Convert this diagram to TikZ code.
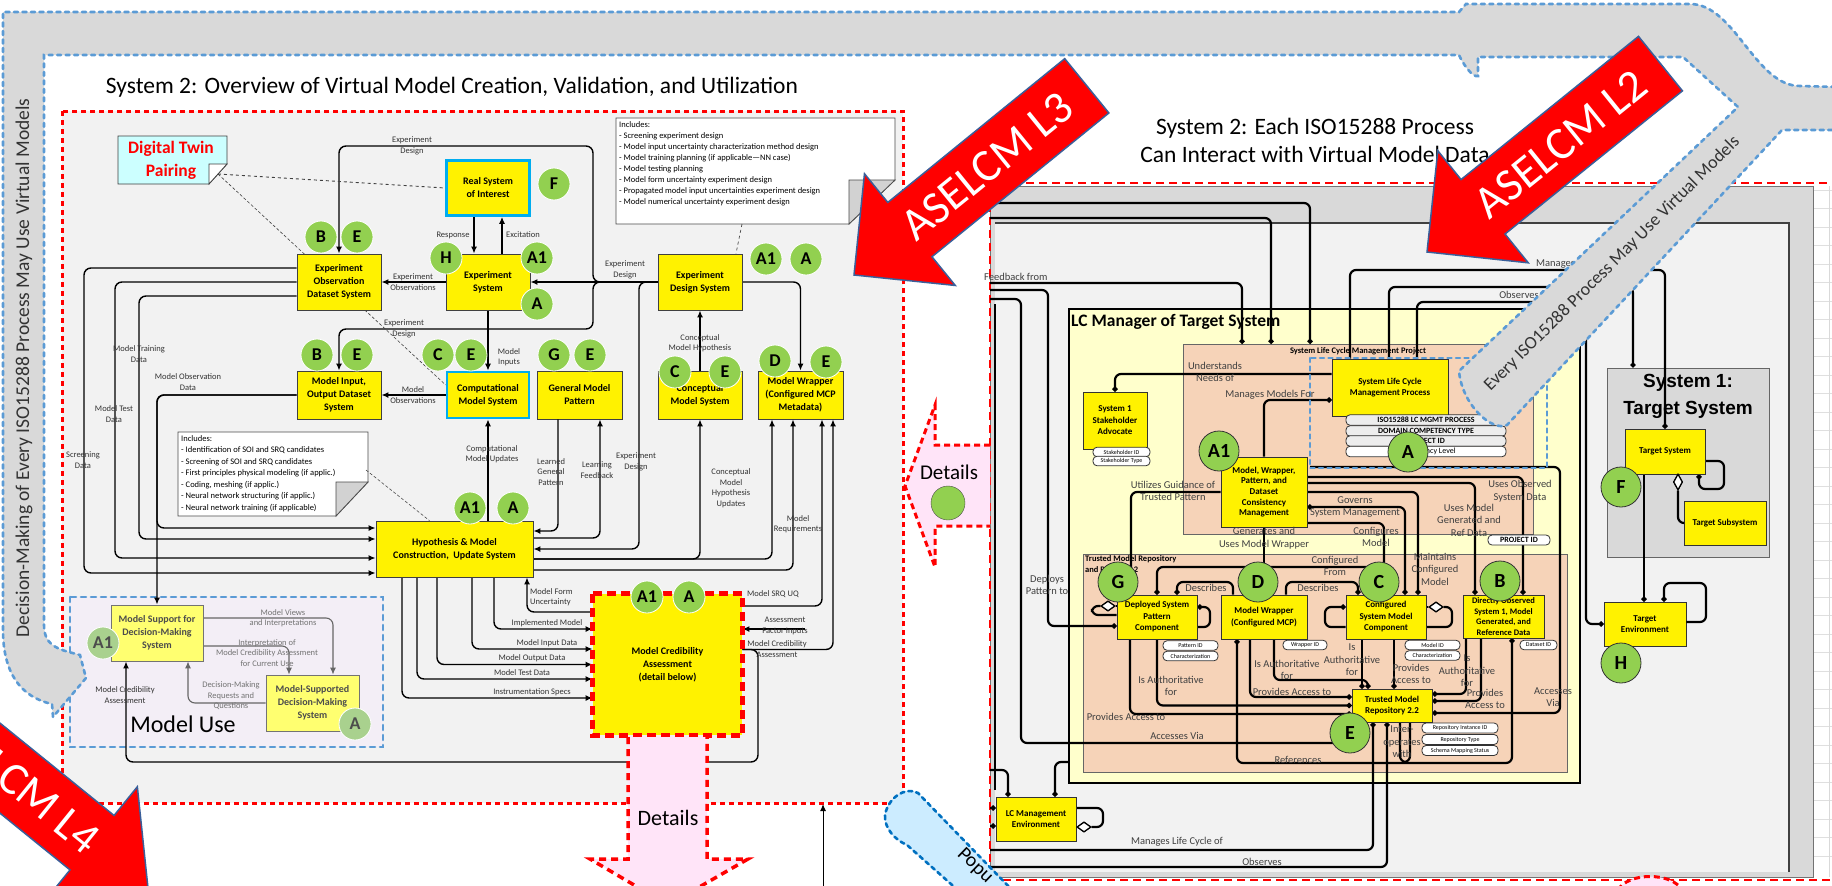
\documentclass[tikz,border=0pt]{standalone}
\usepackage{fontspec}
\setmainfont{Carlito}
\newfontfamily\arialfont{Liberation Sans}
\usetikzlibrary{positioning,arrows.meta,shapes.geometric}
\definecolor{tgreen}{HTML}{92D050}
\definecolor{paleyel}{HTML}{FFFF70}
\definecolor{palegreen}{HTML}{A9D18E}
\definecolor{panelgray}{HTML}{F2F2F2}
\definecolor{bandgray}{HTML}{D9D9D9}
\definecolor{dotblue}{HTML}{5B9BD5}
\definecolor{popdot}{HTML}{0070C0}
\definecolor{popblue}{HTML}{CCECFF}
\definecolor{lcyel}{HTML}{FFFFCC}
\definecolor{peach}{HTML}{F6D3B8}
\definecolor{twincyan}{HTML}{CCFFFF}
\definecolor{detpink}{HTML}{FFE4F8}
\definecolor{usebg}{HTML}{F3EEF6}
\definecolor{edgeblue}{HTML}{3A5F9A}
\definecolor{pillgray}{HTML}{EDEDED}
\tikzset{
  sysbox/.style={draw=black!75, fill=yellow, line width=0.8pt, align=center, inner sep=1pt,
    font=\bfseries\fontsize{10}{13}\selectfont},
  cyanbox/.style={sysbox, draw=cyan, line width=2.6pt},
  usebox/.style={sysbox, fill=paleyel, draw=black!55, text=black!70},
  rbox/.style={draw=black!80, fill=yellow, line width=0.8pt, align=center, inner sep=1pt,
    font=\bfseries\fontsize{9}{11.5}\selectfont},
  lettag/.style={circle, fill=tgreen, draw=white, line width=0.8pt, minimum size=32pt, inner sep=0pt,
    font=\bfseries\fontsize{18}{18}\selectfont},
  paletag/.style={lettag, fill=palegreen, text=black!70},
  rtag/.style={lettag, draw=black!80, minimum size=40pt, font=\bfseries\fontsize{20}{20}\selectfont},
  flowarr/.style={line width=1.4pt, rounded corners=7pt, -{Latex[length=7pt,width=6pt]}},
  usearr/.style={flowarr, draw=black!60, line width=1.1pt},
  lbl/.style={font=\fontsize{8.5}{10.5}\selectfont, text=black!80, align=center, inner sep=0pt},
  uselbl/.style={lbl, text=black!55},
  notetext/.style={anchor=north west, align=left, inner sep=0pt, font=\fontsize{8.5}{11}\selectfont},
  relline/.style={line width=2.2pt, rounded corners=6pt},
  dotend/.style={relline, -{Circle[length=5pt]}},
  rlbl/.style={font=\fontsize{10.5}{12.5}\selectfont, text=black!75, align=center, inner sep=0pt},
  pill/.style={draw=black!80, fill=white, rounded corners=4pt, line width=0.8pt, inner sep=0pt,
    font=\fontsize{6}{6}\selectfont, minimum height=9.5pt},
  hollow/.style={diamond, draw=black, fill=white, line width=1.2pt, minimum width=14pt, minimum height=10pt, inner sep=0pt},
  reddash/.style={draw=red, line width=3pt, dash pattern=on 5pt off 4pt},
  reddashb/.style={draw=red, line width=2.5pt, dash pattern=on 8pt off 5pt},
  bluedot/.style={draw=dotblue, line width=2.6pt, dash pattern=on 4pt off 4.5pt, line cap=round},
  bigarrow/.style={fill=red, draw=edgeblue, line width=1.5pt},
}
\begin{document}
\begin{tikzpicture}[x=1pt,y=-1pt]
\useasboundingbox (0,0) rectangle (1832,886);
\fill[white] (0,0) rectangle (1832,886);

\fill[panelgray] (62,111) rectangle (903,803);
\draw[reddash] (62,111) rectangle (903,803);
\node[font=\fontsize{23.5}{28}\selectfont] (ttlleft) at (452,87) {System 2: Overview of Virtual Model Creation, Validation, and Utilization};

\filldraw[fill=twincyan, draw=black!75, line width=0.8pt] (118,136) -- (227,136) -- (227,164) -- (209,184) -- (118,184) -- cycle;
\filldraw[fill=white, draw=black!75, line width=0.8pt] (209,164) -- (227,164) -- (209,184) -- cycle;
\node[font=\bfseries\fontsize{17.5}{23}\selectfont, text=red, align=center] (twin) at (171,160) {Digital Twin\\Pairing};
\coordinate (twinfold) at (218,174);

\filldraw[fill=white, draw=black!70, line width=0.8pt] (616,118) -- (895,118) -- (895,180) -- (849,224) -- (616,224) -- cycle;
\filldraw[fill=gray!35, draw=black!70, line width=0.8pt] (849,180) -- (895,180) -- (849,224) -- cycle;
\node[notetext] (inclA) at (619,121) {Includes:\\- Screening experiment design\\- Model input uncertainty characterization method design\\- Model training planning (if applicable---NN case)\\- Model testing planning\\- Model form uncertainty experiment design\\- Propagated model input uncertainties experiment design\\- Model numerical uncertainty experiment design};
\coordinate (inclAtip) at (742,224);

\filldraw[fill=white, draw=black!70, line width=0.8pt] (178,432) -- (368,432) -- (368,482) -- (336,516) -- (178,516) -- cycle;
\filldraw[fill=gray!35, draw=black!70, line width=0.8pt] (336,482) -- (368,482) -- (336,516) -- cycle;
\node[notetext, font=\fontsize{8.5}{11.5}\selectfont] (inclB) at (181,435) {Includes:\\- Identification of SOI and SRQ candidates\\- Screening of SOI and SRQ candidates\\- First principles physical modeling (if applic.)\\- Coding, meshing (if applic.)\\- Neural network structuring (if applic.)\\- Neural network training (if applicable)};
\coordinate (inclBtip) at (366,470);

\draw[bluedot, fill=usebg, dash pattern=on 5pt off 5pt] (70,597) rectangle (383,747);

\node[cyanbox, minimum width=83pt, minimum height=55pt] (rsoi) at (488,188) {Real System\\of Interest};
\node[sysbox, minimum width=84pt, minimum height=56pt] (xsys) at (488,282) {Experiment\\System};
\node[sysbox, minimum width=84pt, minimum height=56pt] (eods) at (339,282) {Experiment\\Observation\\Dataset System};
\node[sysbox, minimum width=84pt, minimum height=48pt] (mio) at (339,395) {Model Input,\\Output Dataset\\System};
\node[cyanbox, minimum width=82pt, minimum height=46pt] (cms) at (488,395) {Computational\\Model System};
\node[sysbox, minimum width=85pt, minimum height=48pt] (gmp) at (579.5,395) {General Model\\Pattern};
\node[sysbox, minimum width=84pt, minimum height=48pt] (cons) at (700,395) {Conceptual\\Model System};
\node[sysbox, minimum width=85pt, minimum height=48pt] (mwrap) at (800.5,395) {Model Wrapper\\(Configured MCP\\Metadata)};
\node[sysbox, minimum width=84pt, minimum height=56pt] (edsys) at (700,282) {Experiment\\Design System};
\node[sysbox, minimum width=157pt, minimum height=56pt] (hyp) at (454.5,549) {Hypothesis \& Model\\Construction,\ \ Update System};
\node[sysbox, draw=none, minimum width=149pt, minimum height=141pt] (mca) at (667.5,664.5) {Model Credibility\\Assessment\\(detail below)};
\node[usebox, minimum width=92pt, minimum height=56pt] (msup) at (157,633) {Model Support for\\Decision-Making\\System};
\node[usebox, minimum width=93pt, minimum height=56pt] (msdm) at (312.5,703) {Model-Supported\\Decision-Making\\System};

\draw[flowarr] (edsys.west) -- (xsys.east);
\draw[flowarr] (edsys.west) -| (593,146) -| (eods.north);
\draw[flowarr] (edsys.west) -| (593,329) -| (mio.north);
\draw[flowarr] (edsys.west) -| (639,400) |- (hyp.east);
\draw[flowarr] (edsys.east) -| (mwrap.north);
\draw[flowarr] (xsys.west) -- (eods.east);
\draw[flowarr] ([xshift=-14pt]rsoi.south) -- ([xshift=-14pt]xsys.north);
\draw[flowarr] ([xshift=14pt]xsys.north) -- ([xshift=14pt]rsoi.south);
\draw[flowarr] (xsys.south) -- (cms.north);
\draw[flowarr] (cms.west) -- (mio.east);
\draw[flowarr] (cons.north) -- (edsys.south);
\draw[flowarr] ([yshift=14pt]eods.west) -| (84,560) |- ([yshift=-24pt]hyp.west);
\draw[flowarr] (eods.west) -| (115,545) |- ([yshift=-9pt]hyp.west);
\draw[flowarr] ([yshift=-14pt]eods.west) -| (139,525) |- ([yshift=10pt]hyp.west);
\draw[flowarr] (mio.west) -| (157,515) |- ([yshift=21pt]hyp.west);
\draw[flowarr] (mio.west) -| (msup.north);
\draw[flowarr] ([xshift=-21.5pt]gmp.south) |- ([yshift=18pt]hyp.east);
\draw[flowarr] ([yshift=11pt]hyp.east) -| ([xshift=20.5pt]gmp.south);
\draw[flowarr] ([yshift=-10pt]hyp.east) -| (cons.south);
\draw[flowarr] ([yshift=-10pt]hyp.east) -| ([xshift=-28.5pt]mwrap.south);
\draw[flowarr] ([yshift=-21pt]hyp.east) -| ([xshift=-7.5pt]mwrap.south);
\draw[flowarr] ([xshift=33.5pt]hyp.north) -- (cms.south);
\draw[flowarr] ([yshift=58.5pt]mca.east) -| ([xshift=21.5pt]mwrap.south);
\draw[flowarr] ([yshift=15pt]mca.east) -| ([xshift=32.5pt]mwrap.south);
\coordinate (afisrc) at (805,629);
\draw[flowarr] (afisrc) -- ([yshift=35.5pt]mca.east);
\draw[flowarr] ([yshift=15pt]mca.east) -| (758,762) -| ([xshift=-31pt]msup.south);
\draw[flowarr] ([yshift=52.5pt]mca.west) -| ([xshift=72.5pt]hyp.south);
\draw[flowarr] ([xshift=39.5pt]hyp.south) |- ([yshift=35.5pt]mca.west);
\draw[flowarr] ([xshift=17.5pt]hyp.south) |- ([yshift=15.5pt]mca.west);
\draw[flowarr] ([xshift=-17.5pt]hyp.south) |- (mca.west);
\draw[flowarr] ([xshift=-37.5pt]hyp.south) |- ([yshift=-14.5pt]mca.west);
\draw[flowarr] ([xshift=-52.5pt]hyp.south) |- ([yshift=-33.5pt]mca.west);
\draw[usearr] ([yshift=15pt]msup.east) -| ([xshift=20.5pt]msdm.north);
\draw[usearr] ([yshift=-13pt]msup.east) -| ([xshift=-23.5pt]msdm.north);
\draw[usearr] (msdm.west) -| ([xshift=31pt]msup.south);
\draw[dashed, black!75, line width=0.9pt] (twinfold) -- (rsoi.west);
\draw[densely dashed, black!75, line width=0.6pt] (twinfold) -- ([yshift=10pt]cms.west);
\draw[dashed, black!70, line width=0.7pt] (inclAtip) -- ([xshift=36pt]edsys.north);
\draw[densely dashed, black!70, line width=0.6pt] (inclBtip) -- ([xshift=-25pt]hyp.north);
\coordinate (popin) at (823,886);
\coordinate (popend) at (823,804);
\draw[line width=1pt, -{Latex[length=7pt,width=6pt]}] (popin) -- (popend);

\node[cyanbox, minimum width=83pt, minimum height=55pt] at (rsoi) {Real System\\of Interest};
\node[sysbox, minimum width=84pt, minimum height=56pt] at (xsys) {Experiment\\System};
\node[sysbox, minimum width=84pt, minimum height=56pt] at (eods) {Experiment\\Observation\\Dataset System};
\node[sysbox, minimum width=84pt, minimum height=48pt] at (mio) {Model Input,\\Output Dataset\\System};
\node[cyanbox, minimum width=82pt, minimum height=46pt] at (cms) {Computational\\Model System};
\node[sysbox, minimum width=84pt, minimum height=56pt] at (edsys) {Experiment\\Design System};
\node[sysbox, minimum width=157pt, minimum height=56pt] at (hyp) {Hypothesis \& Model\\Construction,\ \ Update System};
\node[usebox, minimum width=92pt, minimum height=56pt] at (msup) {Model Support for\\Decision-Making\\System};
\node[usebox, minimum width=93pt, minimum height=56pt] at (msdm) {Model-Supported\\Decision-Making\\System};
\draw[red, line width=4.5pt, dash pattern=on 9pt off 5pt] (mca.north west) rectangle (mca.south east);

\node[lettag] (tF) at (554,184) {F};
\node[lettag] (tH) at (446,258) {H};
\node[lettag] (tA1x) at (537,258) {A1};
\node[lettag] (tAx) at (537,304) {A};
\node[lettag] (tBe) at (321,237) {B};
\node[lettag] (tEe) at (357,237) {E};
\node[lettag] (tBm) at (317,355) {B};
\node[lettag] (tEm) at (357,355) {E};
\node[lettag] (tCc) at (438,355) {C};
\node[lettag] (tEc) at (471,355) {E};
\node[lettag] (tGg) at (554,355) {G};
\node[lettag] (tEg) at (590,355) {E};
\node[lettag] (tCk) at (675,372) {C};
\node[lettag] (tEk) at (725,372) {E};
\node[lettag] (tDw) at (775,361) {D};
\node[lettag] (tEw) at (826,362) {E};
\node[lettag] (tA1d) at (766,259) {A1};
\node[lettag] (tAd) at (806,259) {A};
\node[lettag] (tA1h) at (470,508) {A1};
\node[lettag] (tAh) at (513,508) {A};
\node[lettag] (tA1m) at (647,597) {A1};
\node[lettag] (tAm) at (689,597) {A};
\node[paletag] (tA1s) at (103,643) {A1};
\node[paletag] (tAs) at (355,724) {A};

\node[lbl] (lxd1) at (412,146) {Experiment\\Design};
\node[lbl] (lxd2) at (404,329) {Experiment\\Design};
\node[lbl] (lxd3) at (625,270) {Experiment\\Design};
\node[lbl] (lxo) at (413,282) {Experiment\\Observations};
\node[lbl] (lresp) at (453,235) {Response};
\node[lbl] (lexc) at (523,235) {Excitation};
\node[lbl] (lmi) at (509,357) {Model\\Inputs};
\node[lbl] (lmo) at (413,395) {Model\\Observations};
\node[lbl] (lscr) at (83,460) {Screening\\Data};
\node[lbl] (ltest) at (114,414) {Model Test\\Data};
\node[lbl] (ltrain) at (139,354) {Model Training\\Data};
\node[lbl] (lobs) at (188,382) {Model Observation\\Data};
\node[lbl] (llgp) at (551,472) {Learned\\General\\Pattern};
\node[lbl] (llf) at (597,470) {Learning\\Feedback};
\node[lbl] (lxd4) at (636,462) {Experiment\\Design};
\node[lbl] (lcmhu) at (731,488) {Conceptual\\Model\\Hypothesis\\Updates};
\node[lbl] (lmr) at (798,524) {Model\\Requirements};
\node[lbl] (lsrq) at (773,594) {Model SRQ UQ};
\node[lbl] (lafi) at (785,626) {Assessment\\Factor Inputs};
\node[lbl] (lmcar) at (777,649) {Model Credibility\\Assessment};
\node[lbl, anchor=west, align=left] (lmfu) at (530,597) {Model Form\\Uncertainty};
\node[lbl] (lim) at (547,623) {Implemented Model};
\node[lbl] (lmid) at (547,643) {Model Input Data};
\node[lbl] (lmod) at (532,658) {Model Output Data};
\node[lbl] (lmtd) at (522,673) {Model Test Data};
\node[lbl] (lis) at (532,692) {Instrumentation Specs};
\node[lbl] (lcmu) at (492,454) {Computational\\Model Updates};
\node[lbl] (lcmh) at (700,343) {Conceptual\\Model Hypothesis};
\node[uselbl] (lmvi) at (283,618) {Model Views\\and Interpretations};
\node[uselbl] (limc) at (267,653) {Interpretation of\\Model Credibility Assessment\\for Current Use};
\node[uselbl] (ldmr) at (231,696) {Decision-Making\\Requests and\\Questions};
\node[lbl] (lmcal) at (125,695) {Model Credibility\\Assessment};
\node[font=\fontsize{24}{24}\selectfont] (muse) at (183,724) {Model Use};

\fill[bandgray] (990,186) rectangle (1813,877);
\draw[black!55, line width=1pt] (990,186) rectangle (1813,877);
\fill[panelgray] (995,223) rectangle (1789,872);
\draw[black!75, line width=1.2pt] (995,223) -- (1789,223) -- (1789,872);
\fill[white] (1814,186) rectangle (1832,877);
\foreach \gy in {190,208.5,...,870} \draw[gray!25, line width=0.6pt] (1814,\gy) -- (1832,\gy);
\draw[gray!30, line width=0.6pt] (1829,186) -- (1829,877);
\draw[reddashb] (1840,183) -- (990,183) -- (990,880) -- (1840,880);
\node[font=\fontsize{23.5}{28}\selectfont, align=center] (ttlright) at (1315,140) {System 2: Each ISO15288 Process\\Can Interact with Virtual Model Data};

\node[draw=black, fill=lcyel, line width=1.3pt, minimum width=511pt, minimum height=474pt] (lcm) at (1324.5,546) {};
\node[anchor=west, font=\bfseries\fontsize{17.5}{17.5}\selectfont, inner sep=0pt] (lcmttl) at (1071,322) {LC Manager of Target System};
\node[draw=black!60, fill=peach, minimum width=350pt, minimum height=190pt] (slcproj) at (1358,439) {};
\node[font=\bfseries\fontsize{8.5}{8.5}\selectfont, inner sep=0pt] (slcprojttl) at (1358,351) {System Life Cycle Management Project};
\node[draw=black!60, fill=peach, minimum width=484pt, minimum height=218pt] (tmrproj) at (1325,663) {};
\node[anchor=north west, align=left, font=\bfseries\fontsize{8.5}{11}\selectfont, inner sep=0pt] (tmrprojttl) at (1085,555) {Trusted Model Repository\\and Project 2.2};
\node[draw=black!60, fill=bandgray, line width=1pt, minimum width=162pt, minimum height=189pt] (sys1) at (1688,462.5) {};
\node[font={\arialfont\bfseries\fontsize{19}{27}\selectfont}, align=center, inner sep=0pt] (sys1ttl) at (1688,396) {System 1:\\Target System};

\node[rbox, minimum width=116pt, minimum height=57pt] (slcmpr) at (1390,387.5) {System Life Cycle\\Management Process};
\node[rbox, minimum width=64pt, minimum height=57pt] (ssa) at (1115,420.5) {System 1\\Stakeholder\\Advocate};
\node[rbox, minimum width=86pt, minimum height=70pt, font=\bfseries\fontsize{9}{10.7}\selectfont] (mwp) at (1264,492) {Model, Wrapper,\\Pattern, and\\Dataset\\Consistency\\Management};
\node[rbox, minimum width=80pt, minimum height=44pt] (dspc) at (1157,617) {Deployed System\\Pattern\\Component};
\node[rbox, minimum width=86pt, minimum height=44pt] (mwc) at (1264,617) {Model Wrapper\\(Configured MCP)};
\node[rbox, minimum width=80pt, minimum height=44pt] (csmc) at (1386,617) {Configured\\System Model\\Component};
\node[rbox, minimum width=81pt, minimum height=43pt, font=\bfseries\fontsize{8.5}{10.5}\selectfont] (dos) at (1503.5,616.5) {Directly Observed\\System 1, Model\\Generated, and\\Reference Data};
\node[rbox, minimum width=80pt, minimum height=33pt] (tmr) at (1392,705.5) {Trusted Model\\Repository 2.2};
\node[rbox, minimum width=80pt, minimum height=44pt] (lcme) at (1036,819) {LC Management\\Environment};
\node[rbox, minimum width=80pt, minimum height=45pt] (tsys) at (1665,451.5) {Target System};
\node[rbox, minimum width=82pt, minimum height=44pt] (tsub) at (1725,523) {Target Subsystem};
\node[rbox, minimum width=82pt, minimum height=44pt] (tenv) at (1645,624) {Target\\Environment};
\node[hollow] (dsd) at (1108,606) {};
\node[hollow] (csd) at (1436,607) {};
\node[hollow] (lcd) at (1084,827) {};
\node[hollow, minimum width=9pt, minimum height=16pt] (tsd) at (1678,482) {};

\coordinate (fbin) at (990,283);
\coordinate (depin) at (990,290);
\coordinate (avin) at (990,299);
\coordinate (vlin) at (995,304);
\coordinate (vlout) at (995,790);
\coordinate (sysin1) at (990,203);
\coordinate (sysin2) at (990,218);
\coordinate (lcmin) at (990,770);
\coordinate (lcl1) at (990,808);
\coordinate (lcl2) at (990,826);
\coordinate (mlcout) at (990,850);
\coordinate (obsout) at (990,867);
\coordinate (slcbot) at (1310,467);

\draw[dotend] (fbin) -| ([xshift=-116pt]slcproj.north);
\draw[dotend] (depin) -| (1048,560) |- ([yshift=-9pt]dspc.west);
\draw[dotend] (avin) -| (1021,700) |- ([yshift=-37.5pt]tmr.west);
\draw[relline] (vlin) -- (vlout);
\draw[dotend] (sysin2) -| ([xshift=-87pt]slcproj.north);
\draw[dotend] (sysin1) -| ([xshift=-48pt]slcproj.north);
\draw[dotend] ([yshift=13.5pt]slcmpr.west) -| (ssa.north);
\draw[relline, {Circle[length=5pt]}-] ([yshift=-12.5pt]slcmpr.west) -| (mwp.north);
\draw[dotend] ([xshift=-40pt]slcmpr.north) |- (1600,270) -| (tsys.north);
\draw[dotend] ([xshift=-1pt]slcmpr.north) |- (1600,287) -| ([xshift=-55pt]sys1.north);
\draw[dotend] ([xshift=27pt]slcmpr.north) |- (1560,302) -| (1586,600) |- (tenv.west);
\draw[dotend] (slcbot) -| (1560,700) |- ([yshift=-7.5pt]tmr.east);
\draw[dotend] ([yshift=15pt]mwp.east) -| ([xshift=19.5pt]dos.north);
\draw[dotend] ([yshift=9pt]mwp.east) -| ([xshift=-28.5pt]dos.north);
\draw[dotend] (mwp.east) -| ([xshift=32pt]csmc.north);
\draw[relline, {Circle[length=5pt]}-{Circle[length=5pt]}] ([yshift=-15pt]mwp.east) -| ([xshift=19pt]csmc.north);
\draw[dotend] ([yshift=-31pt]mwp.east) -| ([xshift=-2pt]csmc.north);
\draw[dotend] (mwp.west) -| ([xshift=-26pt]dspc.north);
\draw[relline] (mwp.south) -- (mwc.north);
\draw[dotend] ([xshift=-2pt]csmc.north) |- (1300,567) -| (dspc.north);
\draw[relline, {Circle[length=5pt]}-] ([xshift=20pt]dspc.north) |- (1233,582) -- ([xshift=-31pt]mwc.north);
\draw[dotend] ([xshift=22pt]mwc.north) |- (1358,582) -- ([xshift=-28pt]csmc.north);
\draw[relline] (dsd.east) -- ([yshift=11pt]dspc.west);
\draw[relline] (dsd.west) -- (1092,606) -- (1092,615) -- ([yshift=2pt]dspc.west);
\draw[relline, {Circle[length=5pt]}-] ([yshift=10pt]dspc.east) -| (1210,627) -- ([yshift=-10pt]dspc.east);
\draw[relline, {Circle[length=5pt]}-] ([yshift=10pt]csmc.west) -| (1325,627) -- ([yshift=-10pt]csmc.west);
\draw[relline] (csd.west) -- ([yshift=10pt]csmc.east);
\draw[relline] (csd.east) -| (1452,627) -- ([yshift=-10pt]csmc.east);
\draw[dotend] ([xshift=-27pt]dspc.south) |- ([yshift=-8.5pt]tmr.west);
\draw[dotend] (dspc.south) |- (tmr.west);
\draw[relline, {Circle[length=5pt]}-{Circle[length=5pt]}] ([xshift=-27pt]mwc.south) |- (1512,763) -- ([xshift=8.5pt]dos.south);
\draw[dotend] ([xshift=-14pt]mwc.south) |- ([yshift=8.5pt]tmr.west);
\draw[dotend] ([xshift=10pt]mwc.south) |- (1368,680) -- ([xshift=-24pt]tmr.north);
\draw[dotend] ([xshift=-24pt]csmc.south) -- ([xshift=-30pt]tmr.north);
\draw[dotend] ([xshift=8pt]csmc.south) -- ([xshift=2pt]tmr.north);
\draw[dotend] ([xshift=-37.5pt]dos.south) |- ([yshift=11.5pt]tmr.east);
\draw[dotend] ([xshift=-22.5pt]dos.south) |- ([yshift=4.5pt]tmr.east);
\draw[relline, {Circle[length=5pt]}-] ([xshift=-19pt]tmr.south) |- (mlcout);
\draw[relline, {Circle[length=5pt]}-] ([xshift=-5pt]tmr.south) |- (obsout);
\draw[relline] ([xshift=8pt]tmr.south) |- (1410,762) -- ([xshift=18pt]tmr.south);
\draw[dotend] (lcmin) -| ([xshift=-28pt]lcme.north);
\draw[relline, {Circle[length=5pt]}-] ([xshift=19pt]lcme.north) |- (lcm.west |- 0,762);
\draw[relline] ([yshift=11pt]lcme.east) -| (1103,827) -- (lcd.east);
\draw[dotend] (lcl1) -- ([yshift=11pt]lcme.west);
\draw[dotend] (lcl2) -- ([yshift=-7pt]lcme.west);
\draw[dotend] ([yshift=-9.5pt]tsys.east) -| (1724,489) -| ([xshift=34pt]tsys.south);
\draw[relline] (tsd.south) |- (tsub.west);
\draw[dotend] ([xshift=-21pt]tsys.south) -- ([xshift=-1pt]tenv.north);
\draw[relline, {Circle[length=5pt]}-] ([xshift=19pt]tenv.north) |- (1706,583) |- ([yshift=2pt]tenv.east);

\node[rbox, minimum width=116pt, minimum height=57pt] at (slcmpr) {System Life Cycle\\Management Process};
\node[rbox, minimum width=64pt, minimum height=57pt] at (ssa) {System 1\\Stakeholder\\Advocate};
\node[rbox, minimum width=86pt, minimum height=70pt, font=\bfseries\fontsize{9}{10.7}\selectfont] at (mwp) {Model, Wrapper,\\Pattern, and\\Dataset\\Consistency\\Management};
\node[rbox, minimum width=80pt, minimum height=44pt] at (dspc) {Deployed System\\Pattern\\Component};
\node[rbox, minimum width=86pt, minimum height=44pt] at (mwc) {Model Wrapper\\(Configured MCP)};
\node[rbox, minimum width=80pt, minimum height=44pt] at (csmc) {Configured\\System Model\\Component};
\node[rbox, minimum width=81pt, minimum height=43pt, font=\bfseries\fontsize{8.5}{10.5}\selectfont] at (dos) {Directly Observed\\System 1, Model\\Generated, and\\Reference Data};
\node[rbox, minimum width=80pt, minimum height=33pt] at (tmr) {Trusted Model\\Repository 2.2};
\node[rbox, minimum width=80pt, minimum height=44pt] at (lcme) {LC Management\\Environment};
\node[rbox, minimum width=80pt, minimum height=45pt] at (tsys) {Target System};
\node[hollow] at (dsd) {};
\node[hollow] at (csd) {};
\node[hollow] at (lcd) {};
\node[hollow, minimum width=9pt, minimum height=16pt] at (tsd) {};

\node[pill, minimum width=57pt] (pstk1) at (1121.5,452) {Stakeholder ID};
\node[pill, minimum width=57pt] (pstk2) at (1121.5,461) {Stakeholder Type};
\node[pill, fill=pillgray, minimum width=160pt, minimum height=10.5pt, font=\bfseries\fontsize{8}{8}\selectfont] (pslc1) at (1426,420) {ISO15288 LC MGMT PROCESS};
\node[pill, fill=pillgray, minimum width=160pt, minimum height=10.5pt, font=\bfseries\fontsize{8}{8}\selectfont] (pslc2) at (1426,431) {DOMAIN COMPETENCY TYPE};
\node[pill, fill=pillgray, minimum width=160pt, minimum height=10.5pt, font=\bfseries\fontsize{8}{8}\selectfont] (pslc3) at (1426,441) {PROJECT ID};
\node[pill, minimum width=160pt, minimum height=10.5pt, font=\fontsize{8}{8}\selectfont] (pslc4) at (1426,451.5) {Competency Level};
\node[pill, minimum width=55pt] (ppat) at (1190.5,645.5) {Pattern ID};
\node[pill, minimum width=55pt] (pchar1) at (1190.5,656) {Characterization};
\node[pill, minimum width=44pt] (pwrap) at (1305,645) {Wrapper ID};
\node[pill, minimum width=55pt] (pmod) at (1432.5,645) {Model ID};
\node[pill, minimum width=55pt] (pchar2) at (1432.5,655.5) {Characterization};
\node[pill, minimum width=37pt] (pdat) at (1538.5,645) {Dataset ID};
\node[pill, minimum width=76pt, minimum height=10pt] (prep1) at (1460,728) {Repository Instance ID};
\node[pill, minimum width=76pt, minimum height=10pt] (prep2) at (1460,739.5) {Repository Type};
\node[pill, minimum width=76pt, minimum height=10pt] (prep3) at (1460,750.5) {Schema Mapping Status};
\node[pill, minimum width=62pt, minimum height=10pt, font=\bfseries\fontsize{8}{8}\selectfont] (pproj) at (1519,540) {PROJECT ID};
\draw[bluedot] (1310,358) rectangle (1547,468);

\node[rtag] (rA1) at (1219,451) {A1};
\node[rtag] (rA) at (1408,452) {A};
\node[rtag] (rG) at (1118,582) {G};
\node[rtag] (rD) at (1258,582) {D};
\node[rtag] (rC) at (1379,582) {C};
\node[rtag] (rB) at (1500,581) {B};
\node[rtag] (rE) at (1350,733) {E};
\node[rtag] (rF) at (1621,487) {F};
\node[rtag] (rH) at (1621,663) {H};

\node[rlbl, anchor=west] (rfb) at (984,277) {Feedback from};
\node[rlbl] (rdep) at (1047,585) {Deploys\\Pattern to};
\node[rlbl] (rund) at (1215,372) {Understands\\Needs of};
\node[rlbl] (rmmf) at (1270,395) {Manages Models For};
\node[rlbl] (rutil) at (1173,491) {Utilizes Guidance of\\Trusted Pattern};
\node[rlbl] (rgov) at (1355,507) {Governs\\System Management};
\node[rlbl] (rgen) at (1264,538) {Generates and\\Uses Model Wrapper};
\node[rlbl] (rconf) at (1376,537) {Configures\\Model};
\node[rlbl] (rcfrom) at (1335,566) {Configured\\From};
\node[rlbl] (rdes1) at (1206,588) {Describes};
\node[rlbl] (rdes2) at (1318,588) {Describes};
\node[rlbl] (rmaint) at (1435,569) {Maintains\\Configured\\Model};
\node[rlbl] (rumg) at (1469,520) {Uses Model\\Generated and\\Ref Data};
\node[rlbl] (ruos) at (1520,491) {Uses Observed\\System Data};
\node[rlbl, anchor=west] (rmlc) at (1536,264) {Manages Life Cycle of};
\node[rlbl] (robs) at (1519,295) {Observes};
\node[rlbl] (riaf1) at (1171,686) {Is Authoritative\\for};
\node[rlbl] (riaf2) at (1287,670) {Is Authoritative\\for};
\node[rlbl] (riaf3) at (1352,660) {Is\\Authoritative\\for};
\node[rlbl] (rpat1) at (1292,692) {Provides Access to};
\node[rlbl] (rpat2) at (1126,717) {Provides Access to};
\node[rlbl] (rpat3) at (1411,674) {Provides\\Access to};
\node[rlbl] (riaf4) at (1467,671) {Is\\Authoritative\\for};
\node[rlbl] (rpat4) at (1485,699) {Provides\\Access to};
\node[rlbl] (rav1) at (1177,736) {Accesses Via};
\node[rlbl] (rav2) at (1553,697) {Accesses\\Via};
\node[rlbl] (rref) at (1298,760) {References};
\node[rlbl] (riow) at (1402,742) {Inter-\\operates\\with};
\node[rlbl] (rmlc2) at (1177,842) {Manages Life Cycle of};
\node[rlbl] (robs2) at (1262,862) {Observes};

\fill[detpink] (990,445) -- (935,445) -- (935,405) -- (905,486) -- (935,567) -- (935,526) -- (990,526) -- cycle;
\draw[red, line width=3pt, dash pattern=on 6pt off 4pt] (990,445) -- (935,445) -- (935,405) -- (905,486) -- (935,567) -- (935,526) -- (990,526);
\node[font=\fontsize{21}{21}\selectfont] (detR) at (949,472) {Details};
\node[circle, fill=tgreen, draw=black!70, minimum size=34pt, inner sep=0pt] (dcirc) at (948,503) {};

\fill[detpink] (628,737) -- (628,859) -- (590,859) -- (668,905) -- (748,859) -- (707,859) -- (707,737) -- cycle;
\draw[red, line width=3.5pt, dash pattern=on 7pt off 5pt] (628,737) -- (628,859) -- (590,859) -- (668,905) -- (748,859) -- (707,859) -- (707,737);
\node[font=\fontsize{22}{22}\selectfont] (detL) at (668,818) {Details};

\filldraw[fill=popblue, draw=popdot, line width=2.6pt, dash pattern=on 4pt off 4pt, line cap=round] (1014,892) -- (918,793) .. controls (905,786) and (888,798) .. (885,815) .. controls (884,828) and (895,840) .. (907,845) -- (960,892);
\node[rotate=-44, font=\fontsize{20}{20}\selectfont] (popu) at (975,866) {Popu};
\filldraw[fill=detpink, draw=red, line width=3pt, dash pattern=on 6pt off 4pt] (1618,890) .. controls (1628,872) and (1672,872) .. (1682,890);

\filldraw[fill=bandgray, bluedot] (3,630) -- (3,12) -- (1459,12) -- (1466,4) -- (1690,4) .. controls (1735,4) and (1755,86) .. (1800,86) -- (1840,87) -- (1840,130) -- (1782,130) -- (1507,425) .. controls (1492,432) and (1462,405) .. (1459,371) -- (1738,107) -- (1683,57) -- (1478,57) -- (1478,76) .. controls (1472,78) and (1462,62) .. (1459,55) -- (44,55) -- (44,625) .. controls (44,648) and (62,650) .. (80,655) -- (86,678) -- (53,717) -- (52,704) .. controls (20,697) and (3,672) .. (3,630) -- cycle;
\node[rotate=90, font=\fontsize{19.5}{19.5}\selectfont, text=black!80] (bandtxtA) at (24,368) {Decision-Making of Every ISO15288 Process May Use Virtual Models};
\node[rotate=44.9, font=\fontsize{18}{18}\selectfont, text=black!80] (bandtxtB) at (1612,264) {Every ISO15288 Process May Use Virtual Models};

\foreach \tx/\ty/\ang/\tang/\txt in {854/275/219.1/39.1/ASELCM L3, 1427/252/218.9/38.9/ASELCM L2, 148/888/-39/-39/ASELCM L4}{
  \begin{scope}[shift={(\tx,\ty)}, rotate=\ang]
    \filldraw[bigarrow] (0,0) -- (-72,-72) -- (-72,-35) -- (-300,-35) -- (-300,35) -- (-72,35) -- (-72,72) -- cycle;
    \node[rotate=\tang, text=white, font=\fontsize{46}{46}\selectfont] at (-172,0) {\txt};
  \end{scope}
}
\end{tikzpicture}
\end{document}
